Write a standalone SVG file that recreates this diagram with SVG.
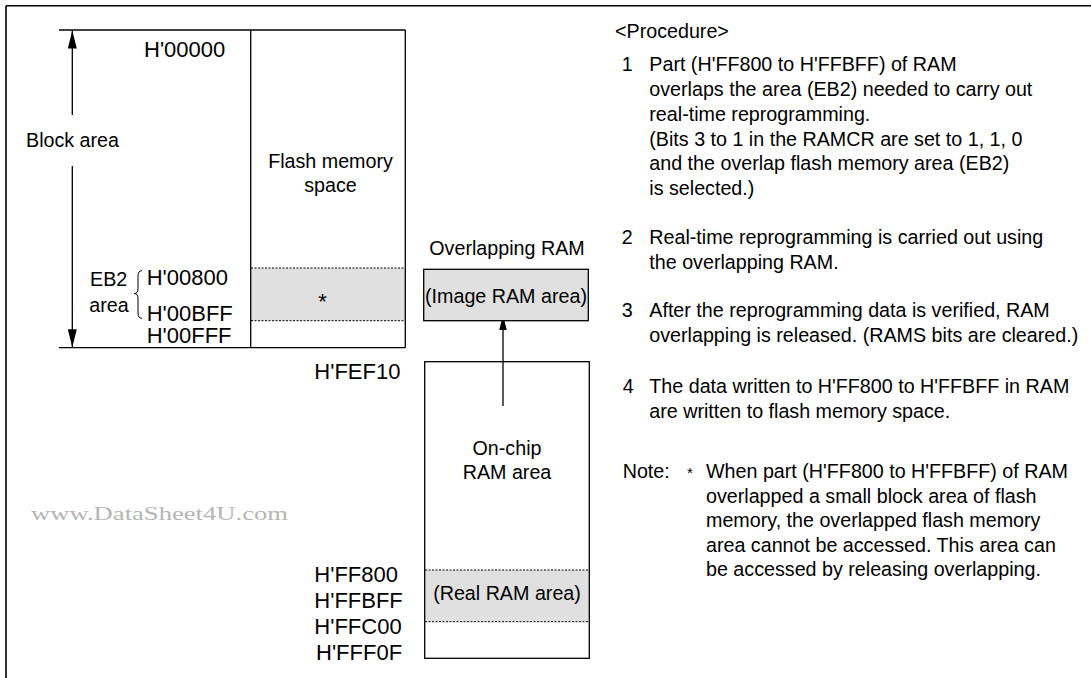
<svg xmlns="http://www.w3.org/2000/svg" width="1091" height="678" viewBox="0 0 1091 678">
<style>
text{font-family:"Liberation Sans",Arial,sans-serif;fill:#000}
.t{font-size:19.7px}
.a{font-size:22px}
.c{text-anchor:middle}
.ln{stroke:#000;stroke-width:1.3;fill:none}
.dot{stroke:#000;stroke-width:1;stroke-dasharray:2 1.5;fill:none}
.wm{font-family:"Liberation Serif","Times New Roman",serif;font-size:18.5px;fill:#b4b4b4}
</style>
<defs>
<marker id="ah" viewBox="0 0 18 9" refX="18" refY="4.5" markerWidth="18" markerHeight="9" markerUnits="userSpaceOnUse" orient="auto">
<polygon points="0,0 18,4.5 0,9" fill="#000"/>
</marker>
<marker id="ahs" viewBox="0 0 15 7.5" refX="15" refY="3.75" markerWidth="15" markerHeight="7.5" markerUnits="userSpaceOnUse" orient="auto">
<polygon points="0,0 15,3.75 0,7.5" fill="#000"/>
</marker>
</defs>
<rect width="1091" height="678" fill="#fff"/>
<g id="frame">
<line class="ln" x1="6" y1="5.7" x2="1091" y2="5.7" style="stroke-width:1.6"/>
<line class="ln" x1="6" y1="5.7" x2="6" y2="678" style="stroke-width:1.6"/>
</g>
<g id="flash">
<rect x="251" y="268" width="154.3" height="52.7" fill="#e0e0e0"/>
<line class="ln" x1="59" y1="30" x2="405.3" y2="30"/>
<line class="ln" x1="59" y1="347.7" x2="405.3" y2="347.7"/>
<line class="ln" x1="250.7" y1="30" x2="250.7" y2="347.7"/>
<line class="ln" x1="405.3" y1="30" x2="405.3" y2="347.7"/>
<line class="dot" x1="251" y1="268" x2="405" y2="268"/>
<line class="dot" x1="251" y1="320.7" x2="405" y2="320.7"/>
<text class="t c" x="330.5" y="167.7">Flash memory</text>
<text class="t c" x="330.5" y="191.7">space</text>
<text class="t c" x="322.5" y="309" style="font-size:22px">*</text>
<text class="a" x="144" y="57.3">H'00000</text>
<text class="a" x="146.7" y="285">H'00800</text>
<text class="a" x="146.7" y="320.5">H'00BFF</text>
<text class="a" x="146.7" y="343.3">H'00FFF</text>
<text class="t" x="26" y="146.7">Block area</text>
<text class="t" x="90" y="286">EB2</text>
<text class="t" x="89.3" y="311.7">area</text>
<path class="ln" d="M142,270.7 Q138,270.7 138,276 L138,289 Q138,293.5 134,293.5 Q138,293.5 138,298 L138,313 Q138,318.3 142,318.3" style="stroke-width:1"/>
</g>
<g id="connectors">
<line class="ln" x1="72.3" y1="115" x2="72.3" y2="30.5" marker-end="url(#ah)"/>
<line class="ln" x1="72.3" y1="166" x2="72.3" y2="347.2" marker-end="url(#ah)"/>
<line class="ln" x1="503" y1="406" x2="503" y2="315" marker-end="url(#ahs)"/>
</g>
<g id="image-ram">
<text class="t" x="429.3" y="255">Overlapping RAM</text>
<rect x="423.7" y="269.3" width="164.6" height="51.4" class="ln" style="fill:#e0e0e0"/>
<text class="t c" x="506" y="302.7">(Image RAM area)</text>
</g>
<g id="onchip-ram">
<rect x="425" y="570" width="164" height="51.7" fill="#e0e0e0"/>
<rect x="424.7" y="361.7" width="164.6" height="296.6" class="ln"/>
<line class="dot" x1="425" y1="570" x2="589" y2="570"/>
<line class="dot" x1="425" y1="621.7" x2="589" y2="621.7"/>
<text class="t c" x="507" y="455">On-chip</text>
<text class="t c" x="507" y="479.3">RAM area</text>
<text class="t c" x="507" y="600">(Real RAM area)</text>
<text class="a" x="314.3" y="379.3">H'FEF10</text>
<text class="a" x="314.3" y="581.7">H'FF800</text>
<text class="a" x="314.3" y="608.3">H'FFBFF</text>
<text class="a" x="314.3" y="634">H'FFC00</text>
<text class="a" x="316" y="660">H'FFF0F</text>
</g>
<g id="procedure">
<text class="t" x="615" y="37.7">&lt;Procedure&gt;</text>
<text class="t" x="621.7" y="71">1</text>
<text class="t" x="649.3" y="71">Part (H'FF800 to H'FFBFF) of RAM</text>
<text class="t" x="649.3" y="96">overlaps the area (EB2) needed to carry out</text>
<text class="t" x="649.3" y="120.7">real-time reprogramming.</text>
<text class="t" x="649.3" y="146">(Bits 3 to 1 in the RAMCR are set to 1, 1, 0</text>
<text class="t" x="649.3" y="170">and the overlap flash memory area (EB2)</text>
<text class="t" x="649.3" y="195">is selected.)</text>
<text class="t" x="621.7" y="244">2</text>
<text class="t" x="649.3" y="244">Real-time reprogramming is carried out using</text>
<text class="t" x="649.3" y="269">the overlapping RAM.</text>
<text class="t" x="621.7" y="317.3">3</text>
<text class="t" x="649.3" y="317.3">After the reprogramming data is verified, RAM</text>
<text class="t" x="649.3" y="341.7">overlapping is released. (RAMS bits are cleared.)</text>
<text class="t" x="622.7" y="393.3">4</text>
<text class="t" x="649.3" y="393.3">The data written to H'FF800 to H'FFBFF in RAM</text>
<text class="t" x="649.3" y="418.3">are written to flash memory space.</text>
<text class="t" x="622.7" y="478.3">Note:</text>
<text class="t" x="687" y="478.3" style="font-size:15px">*</text>
<text class="t" x="706" y="478.3">When part (H'FF800 to H'FFBFF) of RAM</text>
<text class="t" x="706" y="502.7">overlapped a small block area of flash</text>
<text class="t" x="706" y="527">memory, the overlapped flash memory</text>
<text class="t" x="706" y="551.7">area cannot be accessed. This area can</text>
<text class="t" x="706" y="576">be accessed by releasing overlapping.</text>
</g>
<text class="wm" x="31" y="520" textLength="257" lengthAdjust="spacingAndGlyphs">www.DataSheet4U.com</text>
</svg>
